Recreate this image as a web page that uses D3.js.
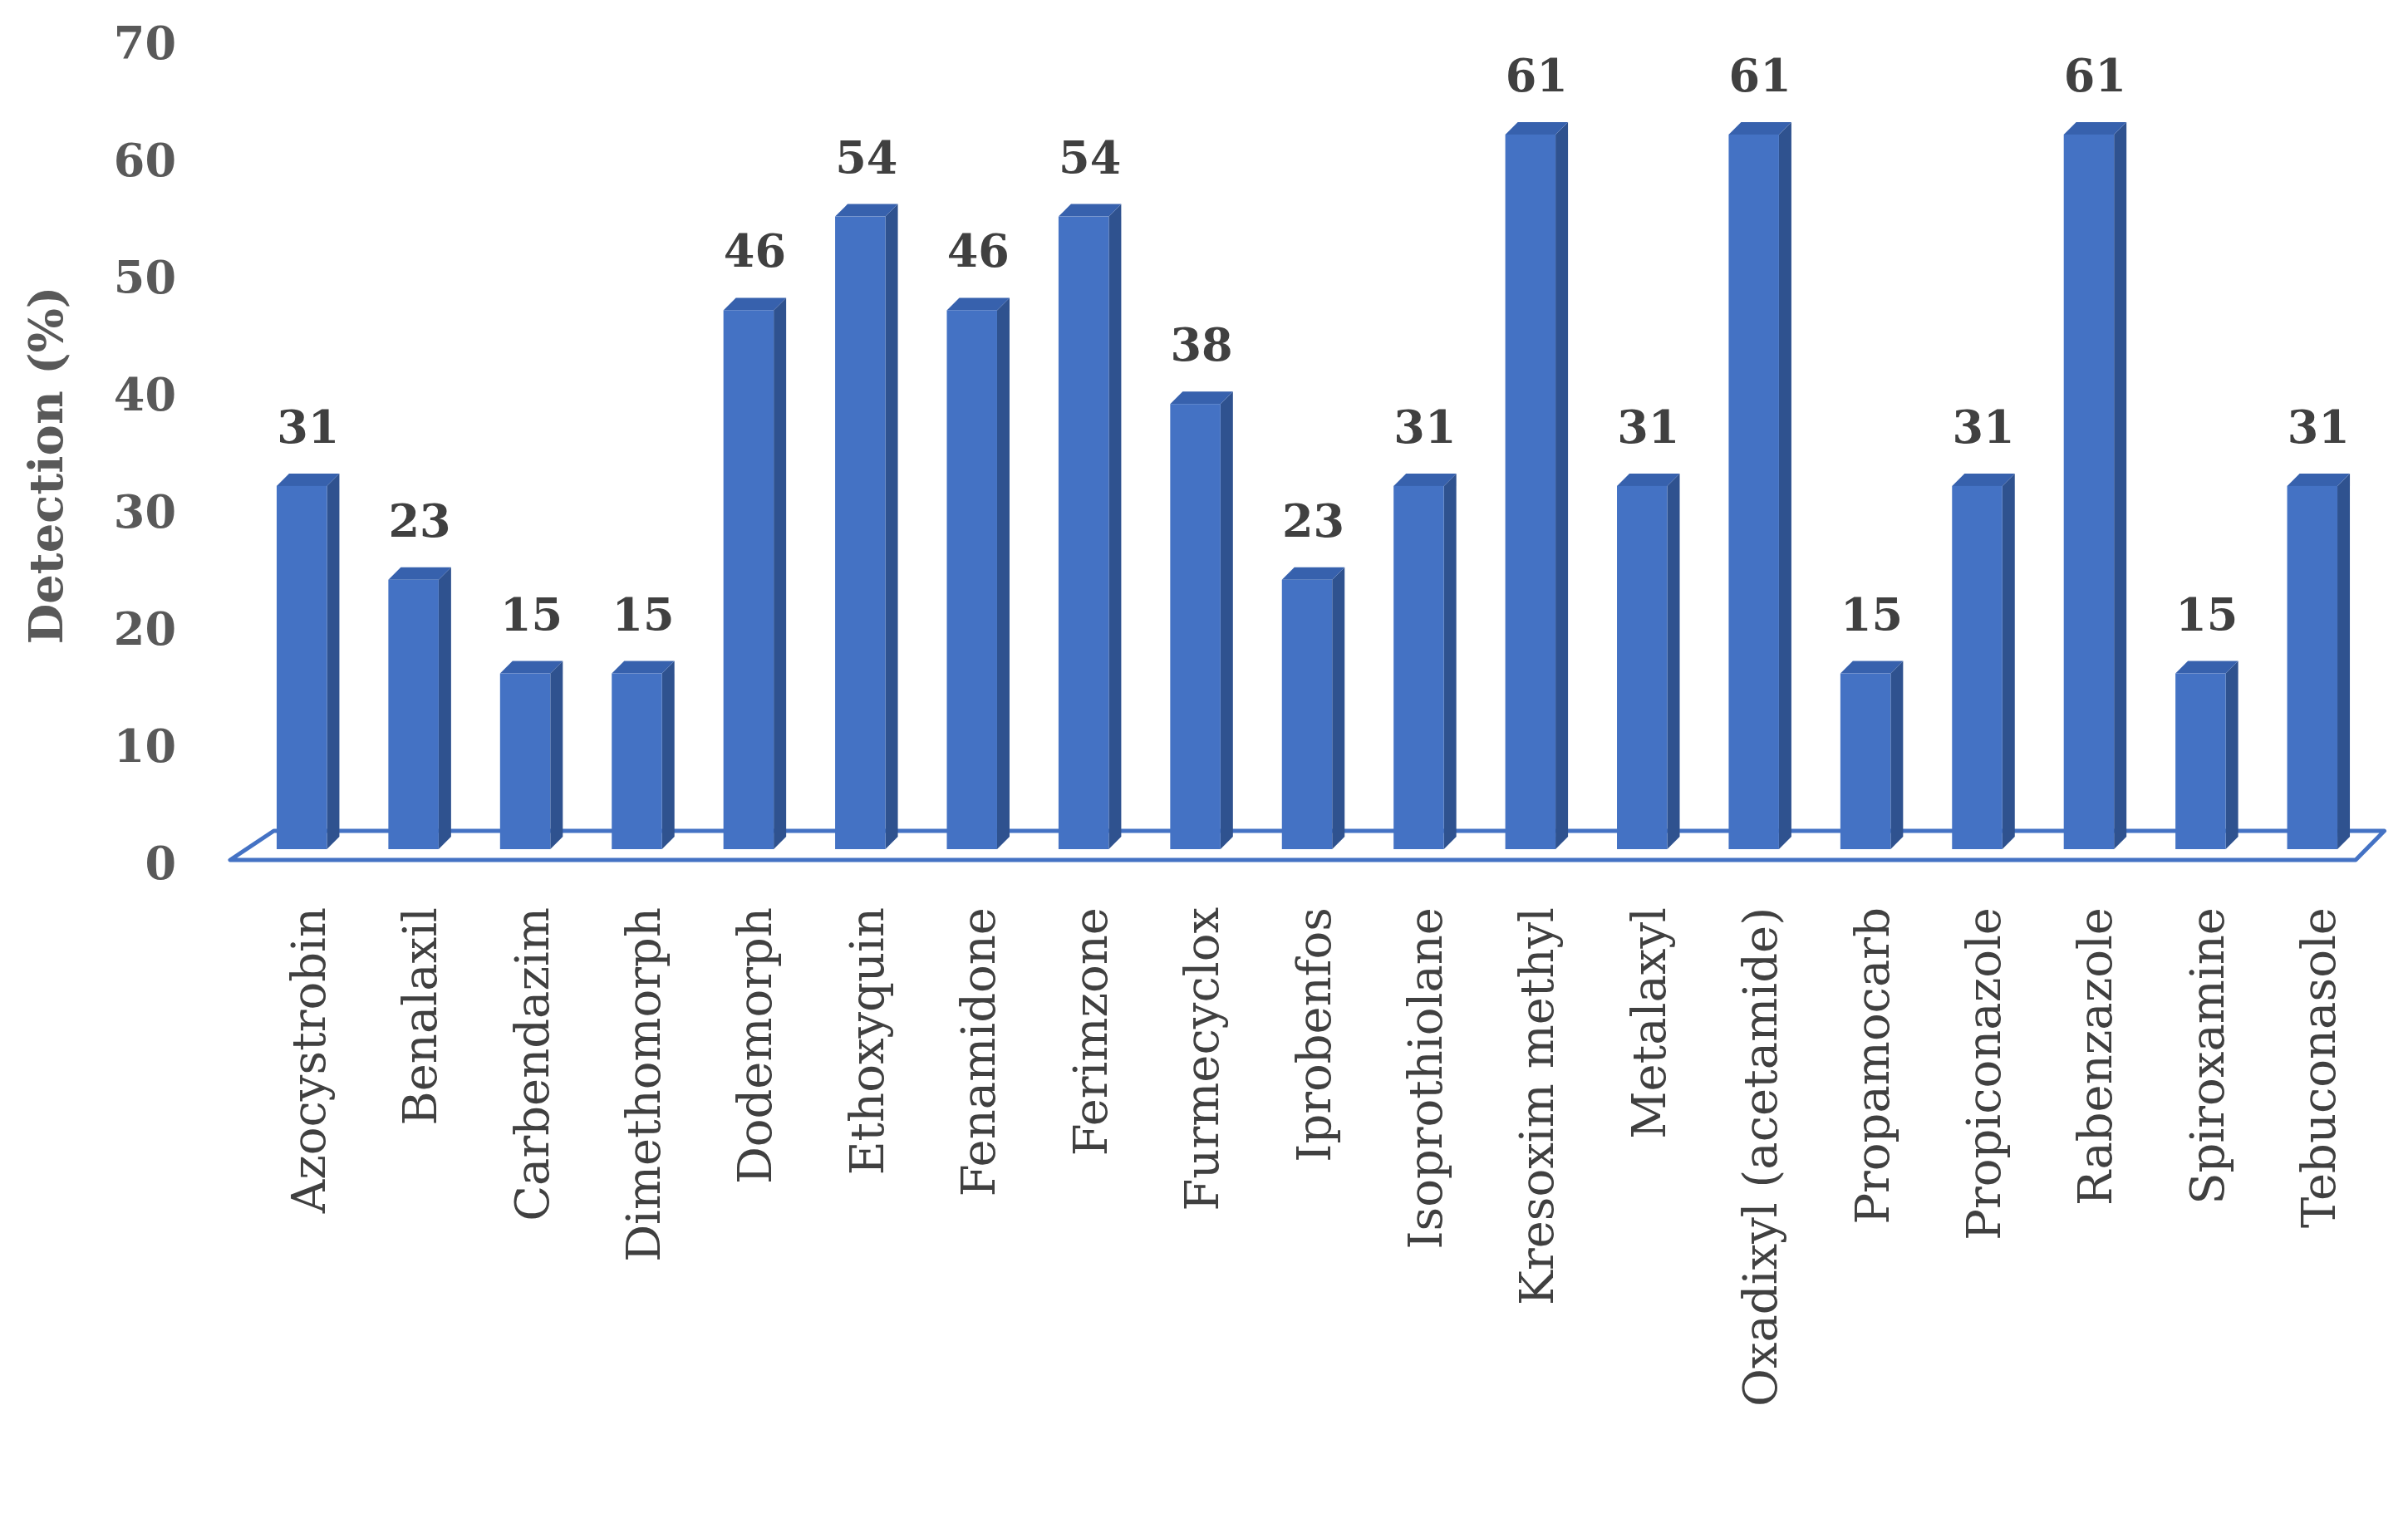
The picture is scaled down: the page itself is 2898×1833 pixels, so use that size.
<!DOCTYPE html>
<html><head><meta charset="utf-8">
<script src="https://cdn.jsdelivr.net/npm/d3@7"></script>
<style>body{margin:0;background:#fff}</style></head>
<body><svg id="c" width="2898" height="1833"></svg>
<script>
const categories=["Azocystrobin","Benalaxil","Carbendazim","Dimethomorph","Dodemorph","Ethoxyquin","Fenamidone","Ferimzone","Furmecyclox","Iprobenfos","Isoprothiolane","Kresoxim methyl","Metalaxyl","Oxadixyl (acetamide)","Propamocarb","Propiconazole","Rabenzazole","Spiroxamine","Tebuconasole"];
const values=[31,23,15,15,46,54,46,54,38,23,31,61,31,61,15,31,61,15,31];
const yTicks=[0,10,20,30,40,50,60,70];
const svg=d3.select("#c");
const x=d3.scaleBand().domain(categories).range([296,2850]).paddingInner(0.55).paddingOuter(0.275);
const y=d3.scaleLinear().domain([0,70]).range([1022,35]);
const dx=15,dy=15;
// floor
const x0=277,x1=2835,yf=1035,yb=1000;
svg.append("path").attr("d",`M${x0},${yf}L${x1},${yf}L${x1+dx*2.3},${yb}L${x0+dx*3.5},${yb}Z`)
 .attr("fill","none").attr("stroke","#4472C4").attr("stroke-width",5).attr("stroke-linejoin","round");
const g=svg.append("g");
categories.forEach((c,i)=>{
  const bx=x(c),bw=x.bandwidth(),top=y(values[i]),bot=y(0);
  g.append("path").attr("d",`M${bx+bw},${top}L${bx+bw+dx},${top-dy}L${bx+bw+dx},${bot-dy}L${bx+bw},${bot}Z`).attr("fill","#2F528F");
  g.append("path").attr("d",`M${bx},${top}L${bx+dx},${top-dy}L${bx+bw+dx},${top-dy}L${bx+bw},${top}Z`).attr("fill","#3761AD");
  g.append("rect").attr("x",bx).attr("y",top).attr("width",bw).attr("height",bot-top).attr("fill","#4472C4");
  svg.append("text").attr("x",bx+bw/2+dx/2).attr("y",top-52).attr("text-anchor","middle")
   .attr("font-family","DejaVu Serif").attr("font-weight","bold").attr("font-size",54).attr("fill","#404040").text(values[i]);
  svg.append("text").attr("transform",`translate(${bx+bw/2+dx/2+20},1092) rotate(-90)`).attr("text-anchor","end")
   .attr("font-family","DejaVu Serif").attr("font-size",56).attr("fill","#404040").text(c);
});
yTicks.forEach(t=>{
  svg.append("text").attr("x",212).attr("y",y(t)+17+19).attr("text-anchor","end")
   .attr("font-family","DejaVu Serif").attr("font-weight","bold").attr("font-size",54).attr("fill","#595959").text(t);
});
svg.append("text").attr("transform","translate(75,560) rotate(-90)").attr("text-anchor","middle")
 .attr("font-family","DejaVu Serif").attr("font-weight","bold").attr("font-size",56).attr("fill","#595959").text("Detection (%)");
</script></body></html>
